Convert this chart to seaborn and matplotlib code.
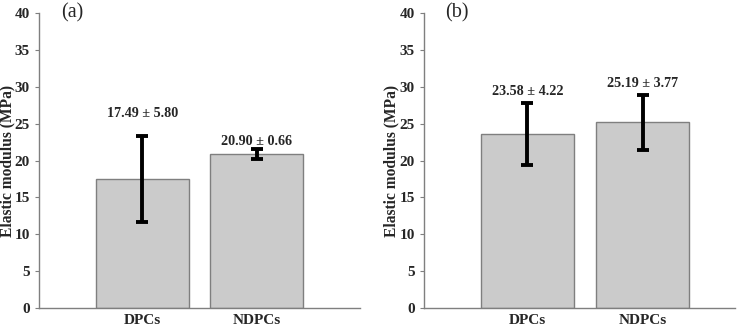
import matplotlib
matplotlib.use("Agg")
import matplotlib.pyplot as plt
import seaborn as sns
import pandas as pd

categories = ["DPCs", "NDPCs"]
means_a = [17.49, 20.90]
sds_a = [5.80, 0.66]
means_b = [23.58, 25.19]
sds_b = [4.22, 3.77]
panel_labels = ["(a)", "(b)"]
ylabel = "Elastic modulus (MPa)"

sns.set_theme(style="white")
plt.rcParams["font.family"] = ["Liberation Serif", "DejaVu Serif"]

fig = plt.figure(figsize=(7.46, 3.28), dpi=100)
ax_a = fig.add_axes([0.0523, 0.061, 0.4303, 0.899])
ax_b = fig.add_axes([0.568, 0.061, 0.417, 0.899])

label_offsets = {
    "(a)": [3.1, 1.05],
    "(b)": [1.6, 1.5],
}

gray = "#7f7f7f"
for ax, means, sds, plab in [(ax_a, means_a, sds_a, "(a)"), (ax_b, means_b, sds_b, "(b)")]:
    df = pd.DataFrame({"cat": categories, "val": means})
    sns.barplot(data=df, x="cat", y="val", ax=ax, color="#cbcbcb", saturation=1,
                width=0.81, edgecolor=gray, linewidth=1.0, errorbar=None)
    ax.errorbar(range(len(categories)), means, yerr=sds, fmt="none", ecolor="black",
                elinewidth=2.8, capsize=4.5, capthick=2.8, zorder=5)
    for i, (m, s) in enumerate(zip(means, sds)):
        ax.text(i, m + s + label_offsets[plab][i], f"{m:.2f} ± {s:.2f}", ha="center",
                va="center", fontsize=10.2, fontweight="bold")
    ax.set_ylim(0, 40)
    ax.set_yticks(range(0, 41, 5))
    ax.set_xlim(-0.9, 1.9 if ax is ax_a else 1.8)
    ax.set_xlabel("")
    ax.set_ylabel(ylabel, fontsize=11.2, fontweight="bold")
    ax.yaxis.label.set_verticalalignment("center")
    ax.yaxis.set_label_coords(-32 / (ax.get_position().width * 746), 0.5)
    for sp in ["top", "right"]:
        ax.spines[sp].set_visible(False)
    for sp in ["left", "bottom"]:
        ax.spines[sp].set_color(gray)
        ax.spines[sp].set_linewidth(1.0)
    ax.tick_params(axis="y", direction="out", length=3, width=0.8, color=gray,
                   labelsize=11, pad=3.5)
    ax.tick_params(axis="x", direction="in", length=3, width=0.8, color=gray,
                   labelsize=11, pad=4)
    ax.tick_params(left=True, bottom=True)
    for t in ax.get_xticklabels() + ax.get_yticklabels():
        t.set_fontweight("bold")
    ax.text(0.07, 1.0, plab, transform=ax.transAxes, fontsize=14.5, ha="left", va="center")
    ax.grid(False)

fig.savefig("out.png", dpi=100)
